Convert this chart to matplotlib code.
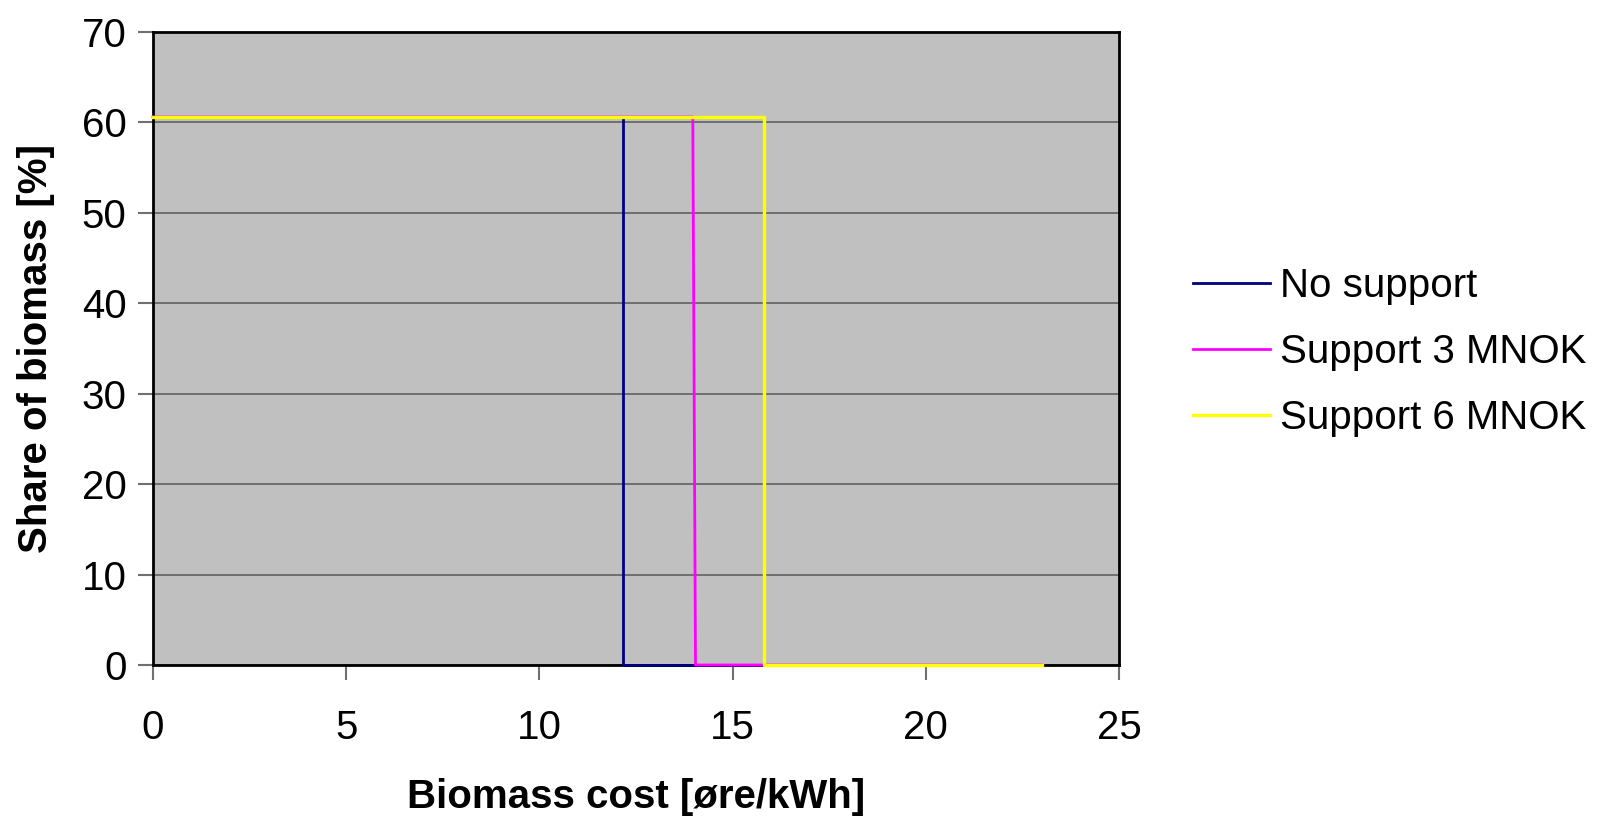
import matplotlib.pyplot as plt

# Biomass cost [øre/kWh] vs share of biomass [%]
x_none = [0, 12.17, 12.17, 23]
y_none = [60.6, 60.6, 0, 0]

x_3mnok = [0, 13.97, 14.04, 23]
y_3mnok = [60.6, 60.6, 0, 0]

x_6mnok = [0, 15.82, 15.82, 23]
y_6mnok = [60.6, 60.6, 0, 0]

labels = ['No support', 'Support 3 MNOK', 'Support 6 MNOK']

plt.rcParams['font.family'] = ['Liberation Sans', 'DejaVu Sans']

fig = plt.figure(figsize=(15.97, 8.16), dpi=100)
ax = fig.add_axes([153 / 1597, 1 - 665 / 816, (1119 - 153) / 1597, (665 - 32) / 816])
ax.set_facecolor('#C0C0C0')

ax.plot(x_none, y_none, color='#000080', lw=2, label=labels[0], clip_on=False, zorder=4)
ax.plot(x_3mnok, y_3mnok, color='#FF00FF', lw=2, label=labels[1], clip_on=False, zorder=4)
ax.plot(x_6mnok, y_6mnok, color='#FFFF00', lw=2.4, label=labels[2], clip_on=False, zorder=4)

ax.set_xlim(0, 25)
ax.set_ylim(0, 70)
ax.set_xticks(range(0, 26, 5))
ax.set_yticks(range(0, 71, 10))
ax.yaxis.grid(True, color='#606060', lw=1.2)
ax.set_axisbelow(True)

for s in ax.spines.values():
    s.set_color('black')
    s.set_linewidth(2)

ax.tick_params(direction='out', length=11, width=1.5, color='#707070', labelsize=29)
ax.tick_params(axis='x', pad=21)
ax.tick_params(axis='y', pad=8)

ax.set_xlabel('Biomass cost [øre/kWh]', fontsize=29, fontweight='bold', labelpad=22)
ax.set_ylabel('Share of biomass [%]', fontsize=29, fontweight='bold', labelpad=19)

fig.legend(loc='center left', bbox_to_anchor=(1157 / 1597, 1 - 352 / 816), frameon=False,
           fontsize=29, handlelength=1.9, handletextpad=0.25, labelspacing=0.7)

fig.savefig('out.png', dpi=100)
